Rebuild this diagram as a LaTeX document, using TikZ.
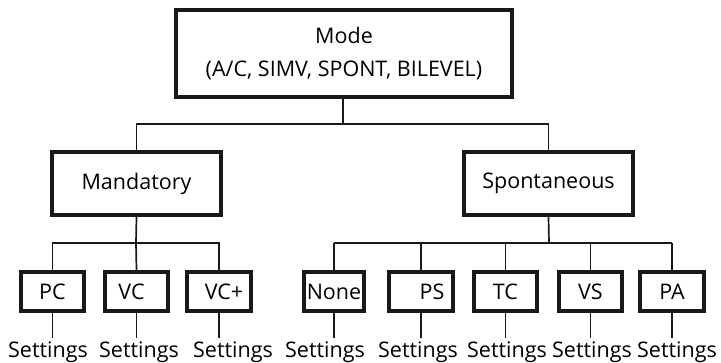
\documentclass[tikz,border=0pt]{standalone}
\usepackage{fontspec}
\setmainfont{Open Sans}
\begin{document}
\begin{tikzpicture}[x=1pt,y=-1pt,
  box/.style={draw=black!90, line width=3.4pt, inner sep=0pt, font=\fontsize{21.5}{33}\selectfont, align=center},
  conn/.style={draw=black!90, line width=1.7pt},
  lbl/.style={font=\fontsize{21.5}{25}\selectfont, inner sep=0pt, anchor=base}]
\useasboundingbox (0,0) rectangle (721,362);
\node[box, minimum width=336pt, minimum height=87pt] (top) at (344,53.5) {Mode\\(A/C, SIMV, SPONT, BILEVEL)};
\node[box, minimum width=169pt, minimum height=63pt] (mand) at (136.5,183.5) {Mandatory};
\node[box, minimum width=169pt, minimum height=63pt] (spon) at (548.5,183.5) {Spontaneous};
\foreach \n/\x/\w/\t in {pc/52.5/63/PC, vc/136.5/63/\kern-10pt VC, vcp/219/64/\kern10pt VC+, none/334/60/None, ps/421/64/\kern22pt PS, tc/505.5/63/TC, vs/590.5/63/VS, pa/672/64/PA}
  \node[box, minimum width=\w pt, minimum height=39pt] (\n) at (\x,291.5) {\t};
\coordinate (j0) at (343,124);
\coordinate (jm) at (136,243);
\coordinate (js) at (549,243);
\draw[conn] (top.south -| j0) -- (j0);
\draw[conn] (mand.north) |- (j0) -| (spon.north);
\draw[conn] (mand.south) -- (jm);
\draw[conn] (pc.north) |- (vcp.north |- jm) -- (vcp.north);
\draw[conn] (jm) -- (vc.north);
\draw[conn] (spon.south) -- (js);
\draw[conn] (none.north |- js) -- (pa.north |- js);
\foreach \n in {none,ps,tc,vs,pa} \draw[conn] (\n.north |- js) -- (\n.north);
\foreach \n/\lx in {pc/48,vc/139,vcp/233,none/325,ps/418,tc/507,vs/592,pa/677}{
  \node[lbl] (s\n) at (\lx,357) {Settings};
  \draw[conn] (\n.south) -- (\n.south |- 0,338);
}
\end{tikzpicture}
\end{document}
